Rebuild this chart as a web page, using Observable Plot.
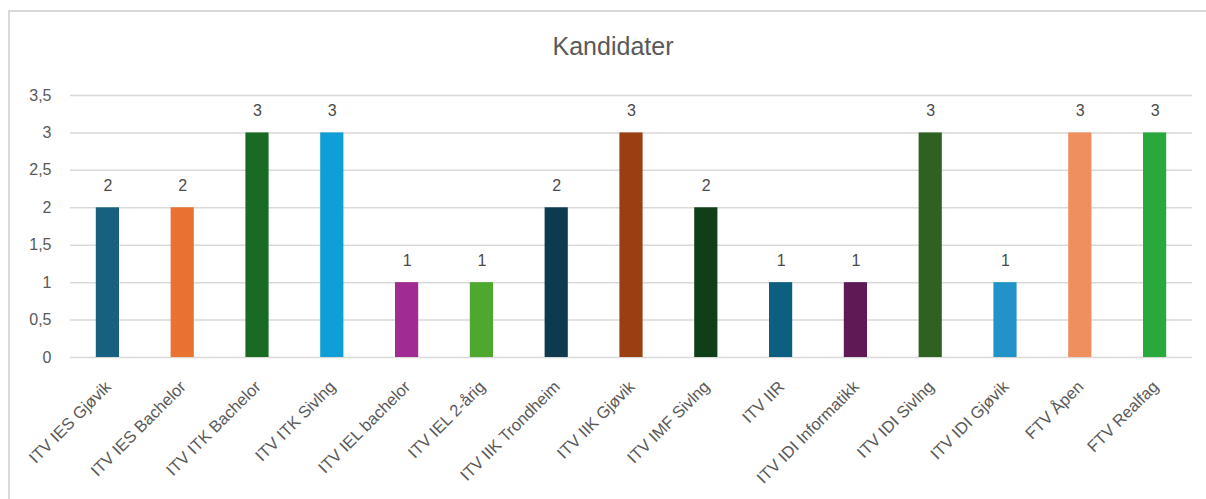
<!DOCTYPE html>
<html>
<head>
<meta charset="utf-8">
<script src="https://cdn.jsdelivr.net/npm/d3@7"></script>
<script src="https://cdn.jsdelivr.net/npm/@observablehq/plot@0.6"></script>
<style>
  html, body { margin: 0; padding: 0; background: #fff; }
  body { width: 1206px; height: 499px; position: relative; overflow: hidden; font-family: "Liberation Sans", Arial, sans-serif; }
  #frame { position: absolute; left: 8px; top: 10px; width: 1210px; height: 510px; border: 2px solid #d9d9d9; box-sizing: border-box; }
  #title { position: absolute; left: 0; width: 1226px; top: 32px; text-align: center; font-size: 25px; color: #595959; }
  #chart { position: absolute; left: 0; top: 0; }
</style>
</head>
<body>
<div id="frame"></div>
<div id="title">Kandidater</div>
<div id="chart"></div>
<script>
const categories = ["ITV IES Gjøvik", "ITV IES Bachelor", "ITV ITK Bachelor", "ITV ITK Sivlng", "ITV IEL bachelor", "ITV IEL 2-årig", "ITV IIK Trondheim", "ITV IIK Gjøvik", "ITV IMF Sivlng", "ITV IIR", "ITV IDI Informatikk", "ITV IDI Sivlng", "ITV IDI Gjøvik", "FTV Åpen", "FTV Realfag"];
const values = [2, 2, 3, 3, 1, 1, 2, 3, 2, 1, 1, 3, 1, 3, 3];
const colors = ["#17607f", "#e97132", "#196b24", "#0f9ed5", "#a02b93", "#4ea72e", "#0e3a4f", "#9a3f12", "#0f3e18", "#0c5f80", "#5f1a56", "#2e6220", "#2293c9", "#f08f5e", "#29a83b"];
const yTicks = [0, 0.5, 1, 1.5, 2, 2.5, 3, 3.5];

const data = categories.map((c, i) => ({name: c, value: values[i], color: colors[i]}));
const fmt = d => String(d).replace(".", ",");

const chart = Plot.plot({
  width: 1206,
  height: 499,
  marginLeft: 70,
  marginRight: 14,
  marginTop: 95,
  marginBottom: 142,
  style: {fontFamily: "Liberation Sans, Arial, sans-serif", fontSize: "16px", color: "#595959", background: "transparent"},
  x: {domain: categories, paddingInner: 0.69, paddingOuter: 0.345, round: false, axis: null},
  y: {domain: [0, 3.5], axis: null},
  marks: [
    Plot.ruleY(yTicks, {stroke: "#d9d9d9", strokeWidth: 1.5}),
    Plot.text(yTicks, {frameAnchor: "left", y: d => d, text: fmt, textAnchor: "end", dx: -19, fill: "#595959", fontSize: 16}),
    Plot.barY(data, {x: "name", y: "value", fill: "color"}),
    Plot.text(data, {x: "name", y: "value", text: d => fmt(d.value), dy: -22, fill: "#4a4a4a", fontSize: 16}),
    Plot.text(data, {x: "name", y: 0, text: "name", rotate: -45, textAnchor: "end", lineAnchor: "top", dx: -4, dy: 22, fill: "#595959", fontSize: 16.5})
  ]
});
document.getElementById("chart").appendChild(chart);
</script>
</body>
</html>
